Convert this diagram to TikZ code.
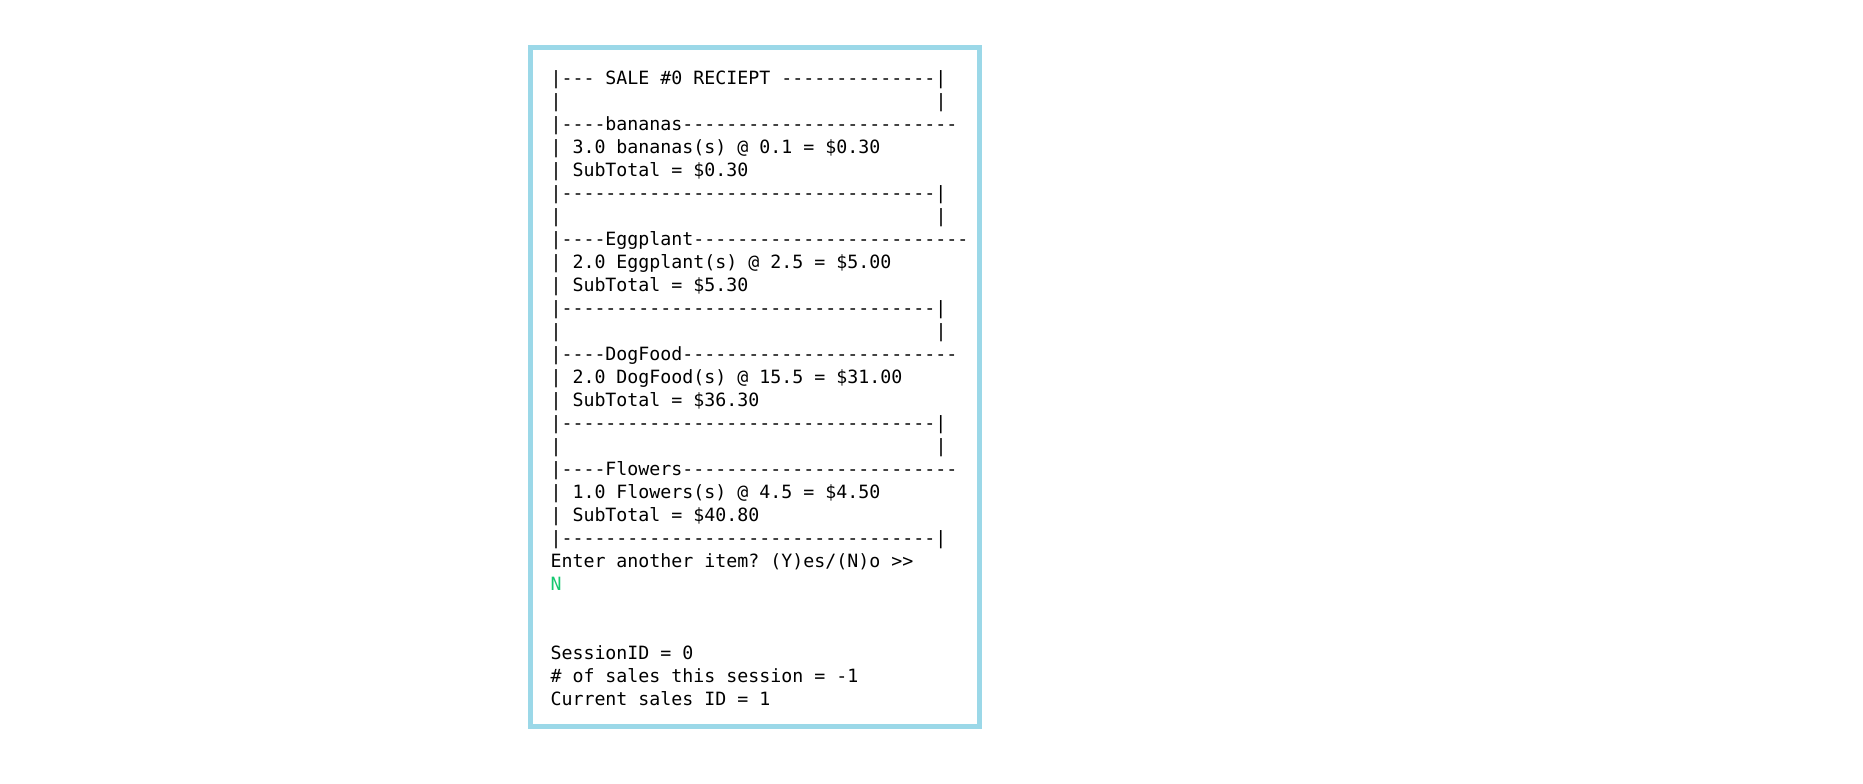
\documentclass[tikz,border=0pt]{standalone}
\usepackage{fontspec}
\setmonofont{DejaVu Sans Mono}
\definecolor{frameblue}{RGB}{155,216,232}
\definecolor{termgreen}{RGB}{22,200,112}
\newlength\cw
\setlength\cw{11pt}
\newcommand\blk[1]{\hspace*{#1\cw}}
\tikzset{
  ln/.style={anchor=base west, inner sep=0pt, outer sep=0pt, font=\ttfamily\fontsize{18.27}{23}\selectfont, text=black},
  frame/.style={draw=frameblue, line width=5pt}
}
\begin{document}
\begin{tikzpicture}[x=1pt,y=-1pt]
\useasboundingbox (0,0) rectangle (1863,784);
\fill[white] (0,0) rectangle (1863,784);
\draw[frame] (530.5,47.5) rectangle (979.5,726.5);
\def\X{550.5}
\node[ln] (l1)  at (\X, 84.3) {|--- SALE \#0 RECIEPT --------------|};
\node[ln] (l2)  at (\X,107.3) {|\blk{34}|};
\node[ln] (l3)  at (\X,130.3) {|----bananas-------------------------};
\node[ln] (l4)  at (\X,153.3) {| 3.0 bananas(s) @ 0.1 = \$0.30};
\node[ln] (l5)  at (\X,176.3) {| SubTotal = \$0.30};
\node[ln] (l6)  at (\X,199.3) {|----------------------------------|};
\node[ln] (l7)  at (\X,222.3) {|\blk{34}|};
\node[ln] (l8)  at (\X,245.3) {|----Eggplant-------------------------};
\node[ln] (l9)  at (\X,268.3) {| 2.0 Eggplant(s) @ 2.5 = \$5.00};
\node[ln] (l10) at (\X,291.3) {| SubTotal = \$5.30};
\node[ln] (l11) at (\X,314.3) {|----------------------------------|};
\node[ln] (l12) at (\X,337.3) {|\blk{34}|};
\node[ln] (l13) at (\X,360.3) {|----DogFood-------------------------};
\node[ln] (l14) at (\X,383.3) {| 2.0 DogFood(s) @ 15.5 = \$31.00};
\node[ln] (l15) at (\X,406.3) {| SubTotal = \$36.30};
\node[ln] (l16) at (\X,429.3) {|----------------------------------|};
\node[ln] (l17) at (\X,452.3) {|\blk{34}|};
\node[ln] (l18) at (\X,475.3) {|----Flowers-------------------------};
\node[ln] (l19) at (\X,498.3) {| 1.0 Flowers(s) @ 4.5 = \$4.50};
\node[ln] (l20) at (\X,521.3) {| SubTotal = \$40.80};
\node[ln] (l21) at (\X,544.3) {|----------------------------------|};
\node[ln] (l22) at (\X,567.3) {Enter another item? (Y)es/(N)o >>};
\node[ln, text=termgreen] (l23) at (\X,590.3) {N};
\node[ln] (l26) at (\X,659.3) {SessionID = 0};
\node[ln] (l27) at (\X,682.3) {\# of sales this session = -1};
\node[ln] (l28) at (\X,705.3) {Current sales ID = 1};
\end{tikzpicture}
\end{document}
